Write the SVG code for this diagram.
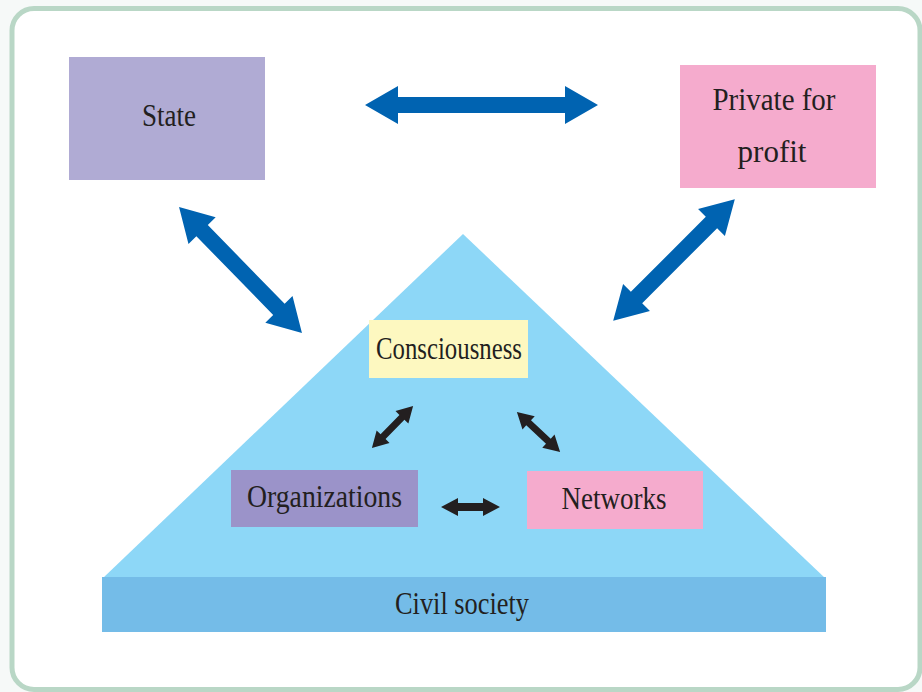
<svg xmlns="http://www.w3.org/2000/svg" width="922" height="692" viewBox="0 0 922 692">
<style>
  .lbl{font-size:31px;fill:#231f20;text-anchor:middle}
  .big{fill:#0063b1}
  .small{fill:#231f20}
</style>
<rect x="0" y="0" width="922" height="692" fill="#f6f9f8"/>
<rect x="12" y="8.5" width="908" height="681" rx="22" fill="#ffffff" stroke="#b9d7c6" stroke-width="5"/>

<g font-family="Liberation Serif, Times New Roman, DejaVu Serif, serif">
<g id="civil-society">
  <polygon points="463,234 825,578 103,578" fill="#8dd7f7"/>
  <rect x="102" y="577" width="724" height="55" fill="#74bce8"/>
  <text class="lbl" x="462" y="614" textLength="134" lengthAdjust="spacingAndGlyphs">Civil society</text>
</g>

<g id="state">
  <rect x="69" y="57" width="196" height="123" fill="#b0abd4"/>
  <text class="lbl" x="169" y="126" textLength="54" lengthAdjust="spacingAndGlyphs">State</text>
</g>

<g id="private">
  <rect x="680" y="65" width="196" height="123" fill="#f5abcd"/>
  <text class="lbl" x="774" y="110" textLength="123" lengthAdjust="spacingAndGlyphs">Private for</text>
  <text class="lbl" x="772" y="162" font-size="33">profit</text>
</g>

<g id="consciousness">
  <rect x="369" y="320" width="159" height="58" fill="#fdf8c0"/>
  <text class="lbl" x="449" y="359" textLength="146" lengthAdjust="spacingAndGlyphs">Consciousness</text>
</g>

<g id="organizations">
  <rect x="231" y="470" width="187" height="57" fill="#9b93c9"/>
  <text class="lbl" x="324.5" y="507" textLength="155" lengthAdjust="spacingAndGlyphs">Organizations</text>
</g>

<g id="networks">
  <rect x="527" y="471" width="176" height="58" fill="#f5abcd"/>
  <text class="lbl" x="614" y="509" textLength="105" lengthAdjust="spacingAndGlyphs">Networks</text>
</g>
</g>

<g id="connectors">
  <path class="big" transform="translate(481.5,105)" d="M-116.5,0 L-83.5,-19 L-83.5,-8 L83.5,-8 L83.5,-19 L116.5,0 L83.5,19 L83.5,8 L-83.5,8 L-83.5,19 Z"/>
  <path class="big" transform="translate(240.5,270) rotate(45.7)" d="M-88,0 L-55,-19 L-55,-8 L55,-8 L55,-19 L88,0 L55,19 L55,8 L-55,8 L-55,19 Z"/>
  <path class="big" transform="translate(674,260) rotate(135)" d="M-86,0 L-53,-19 L-53,-8 L53,-8 L53,-19 L86,0 L53,19 L53,8 L-53,8 L-53,19 Z"/>
  <path class="small" transform="translate(392.5,427) rotate(-45.7)" d="M-29.5,0 L-13.5,-9 L-13.5,-3.5 L13.5,-3.5 L13.5,-9 L29.5,0 L13.5,9 L13.5,3.5 L-13.5,3.5 L-13.5,9 Z"/>
  <path class="small" transform="translate(538.5,432) rotate(42.9)" d="M-29.5,0 L-13.5,-9 L-13.5,-3.5 L13.5,-3.5 L13.5,-9 L29.5,0 L13.5,9 L13.5,3.5 L-13.5,3.5 L-13.5,9 Z"/>
  <path class="small" transform="translate(470.5,507)" d="M-29.5,0 L-12.5,-9 L-12.5,-4 L12.5,-4 L12.5,-9 L29.5,0 L12.5,9 L12.5,4 L-12.5,4 L-12.5,9 Z"/>
</g>
</svg>
